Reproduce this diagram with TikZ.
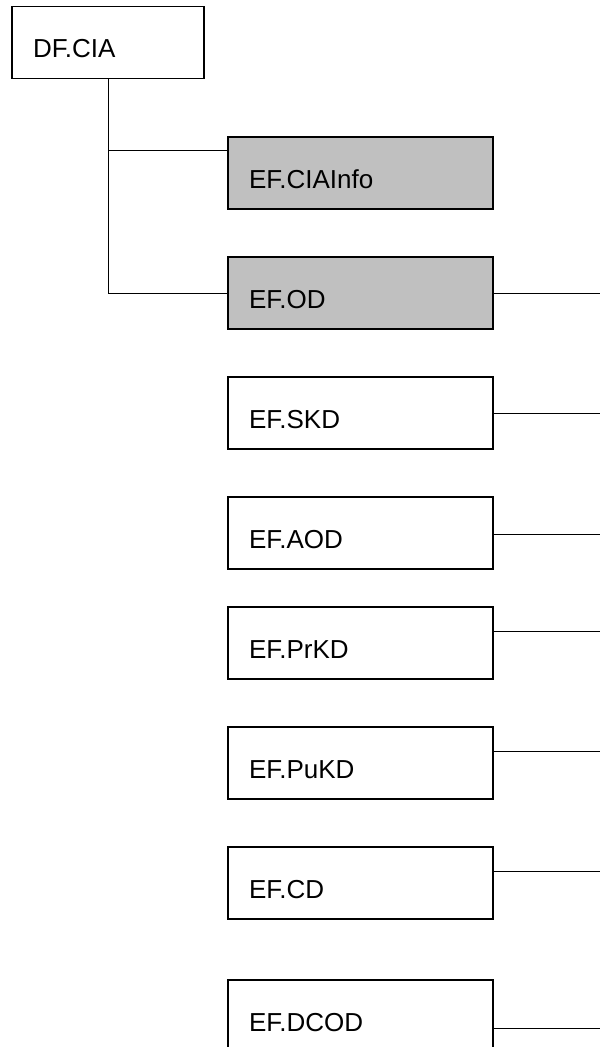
\documentclass[tikz,border=0pt]{standalone}
\usepackage{fontspec}
\setmainfont{Liberation Sans}
\usetikzlibrary{positioning}
\definecolor{efgray}{HTML}{C0C0C0}

\begin{document}
\begin{tikzpicture}[
      x=1pt, y=-1pt,
      every node/.style={font=\fontsize{26}{31}\selectfont},
      file/.style={draw, line width=1.2pt, minimum height=72pt, inner ysep=0pt, inner xsep=21pt,
                   text width=223pt, text height=30pt, text depth=0pt, align=left},
      link/.style={line width=0.9pt},
    ]
    \useasboundingbox (0,0) rectangle (600,1047);

    % Dedicated file
    \node[file, text width=150pt] (dfcia) at (108,42.5) {DF.CIA};

    % Elementary files
    \node[file, fill=efgray] (ciainfo) at (360.5,173) {EF.CIAInfo};
    \node[file, fill=efgray] (od) at (360.5,293) {EF.OD};
    \node[file] (skd) at (360.5,413) {EF.SKD};
    \node[file] (aod) at (360.5,533) {EF.AOD};
    \node[file] (prkd) at (360.5,643) {EF.PrKD};
    \node[file] (pukd) at (360.5,763) {EF.PuKD};
    \node[file] (cd) at (360.5,883) {EF.CD};
    \node[file] (dcod) at (360.5,1016) {EF.DCOD};

    \coordinate (branch) at (108,150);
    \coordinate (edge) at (600,0);

    % Tree
    \draw[link] (dfcia.south) -- (dfcia.south |- od.west) -- (od.west);
    \draw[link] (branch) -- (branch -| ciainfo.west);

    % Outgoing lines
    \draw[link] (od.east) -- (od.east -| edge);
    \draw[link] (skd.east) -- (skd.east -| edge);
    \draw[link] ([yshift=-1.5pt]aod.east) coordinate (aod-out) -- (aod-out -| edge);
    \draw[link] ([yshift=12pt]prkd.east) coordinate (prkd-out) -- (prkd-out -| edge);
    \draw[link] ([yshift=12pt]pukd.east) coordinate (pukd-out) -- (pukd-out -| edge);
    \draw[link] ([yshift=12pt]cd.east) coordinate (cd-out) -- (cd-out -| edge);
    \draw[link] ([yshift=-12pt]dcod.east) coordinate (dcod-out) -- (dcod-out -| edge);
  \end{tikzpicture}
\end{document}
